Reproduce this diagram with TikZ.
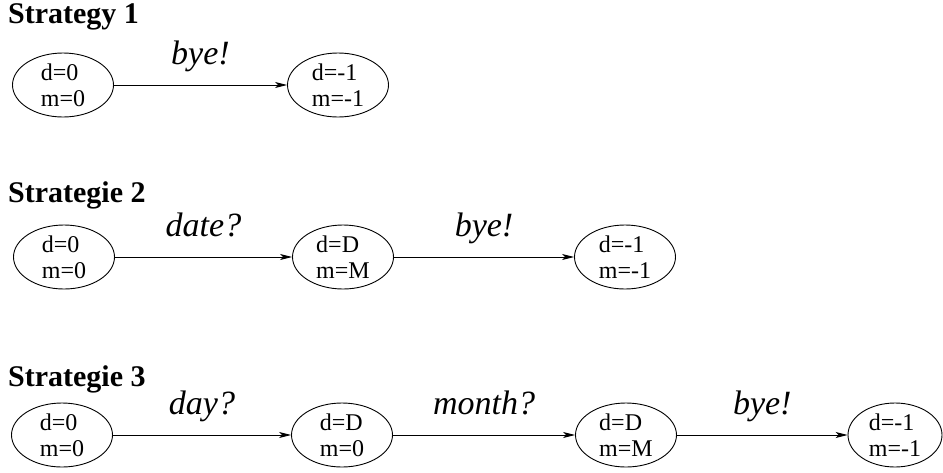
\documentclass[tikz,border=0pt]{standalone}
\usepackage{fontspec}
\setmainfont{Liberation Serif}
\usetikzlibrary{arrows.meta, shapes.geometric}

\begin{document}
\begin{tikzpicture}[x=1pt, y=-1pt]
\tikzset{etat/.style={draw, ellipse, line width=0.9pt, minimum width=101pt, minimum height=64pt, inner sep=0pt, align=left, font=\fontsize{24}{26}\selectfont},
  titre/.style={anchor=base west, inner sep=0pt, font=\fontsize{30}{32}\selectfont\bfseries},
  fleche/.style={line width=0.9pt, -{Stealth[length=12pt, width=6pt, inset=3pt]}},
  etiq/.style={midway, anchor=base, yshift=21pt, inner sep=0pt, font=\fontsize{34}{36}\selectfont\itshape}}
\useasboundingbox (0, 0) rectangle (943, 472);
% Strategy 1
\node[titre] (T1) at (8, 23) {Strategy 1};
\node[etat] (A1) at (63, 85) {d=0\\m=0};
\node[etat] (A2) at (338, 85) {d=-1\\m=-1};
\draw[fleche] (A1) -- (A2) node[etiq] {bye!};
% Strategie 2
\node[titre] (T2) at (8, 202) {Strategie 2};
\node[etat] (B1) at (64, 257) {d=0\\m=0};
\node[etat] (B2) at (343, 257) {d=D\\m=M};
\node[etat] (B3) at (625, 257) {d=-1\\m=-1};
\draw[fleche] (B1) -- (B2) node[etiq] {date?};
\draw[fleche] (B2) -- (B3) node[etiq] {bye!};
% Strategie 3
\node[titre] (T3) at (8, 386) {Strategie 3};
\node[etat] (C1) at (62, 435) {d=0\\m=0};
\node[etat] (C2) at (342, 435) {d=D\\m=0};
\node[etat] (C3) at (626, 435) {d=D\\m=M};
\node[etat, minimum width=94pt] (C4) at (895, 435) {d=-1\\m=-1};
\draw[fleche] (C1) -- (C2) node[etiq] {day?};
\draw[fleche] (C2) -- (C3) node[etiq] {month?};
\draw[fleche] (C3) -- (C4) node[etiq] {bye!};
\end{tikzpicture}
\end{document}
